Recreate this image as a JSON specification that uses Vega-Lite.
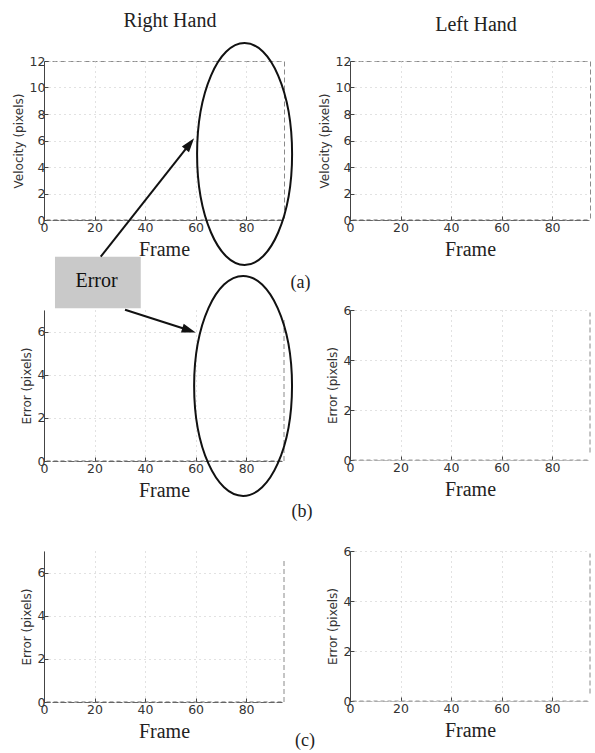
{
  "$schema": "https://vega.github.io/schema/vega-lite/v6.json",
  "background": "white",
  "padding": {"left": 11, "top": 10, "right": 0, "bottom": 0},
  "columns": 2,
  "spacing": {"row": 90, "column": 66},
  "bounds": "flush",
  "datasets": {
    "series": [
      {"panel": "aL", "frame": 1, "value": 0}, {"panel": "aL", "frame": 30, "value": 0}, {"panel": "aL", "frame": 60, "value": 0}, {"panel": "aL", "frame": 95, "value": 0},
      {"panel": "aR", "frame": 1, "value": 0}, {"panel": "aR", "frame": 30, "value": 0}, {"panel": "aR", "frame": 60, "value": 0}, {"panel": "aR", "frame": 95, "value": 0},
      {"panel": "bL", "frame": 1, "value": 0}, {"panel": "bL", "frame": 30, "value": 0}, {"panel": "bL", "frame": 60, "value": 0}, {"panel": "bL", "frame": 95, "value": 0},
      {"panel": "bR", "frame": 1, "value": 0}, {"panel": "bR", "frame": 30, "value": 0}, {"panel": "bR", "frame": 60, "value": 0}, {"panel": "bR", "frame": 95, "value": 0},
      {"panel": "cL", "frame": 1, "value": 0}, {"panel": "cL", "frame": 30, "value": 0}, {"panel": "cL", "frame": 60, "value": 0}, {"panel": "cL", "frame": 95, "value": 0},
      {"panel": "cR", "frame": 1, "value": 0}, {"panel": "cR", "frame": 30, "value": 0}, {"panel": "cR", "frame": 60, "value": 0}, {"panel": "cR", "frame": 95, "value": 0}
    ]
  },
  "config": {
    "view": {"stroke": "#8a8a8a", "strokeDash": [5, 3], "strokeWidth": 1},
    "axis": {
      "labelFont": "DejaVu Sans", "labelFontSize": 12.5, "labelColor": "#333",
      "labelFlush": false, "labelOverlap": false,
      "domainColor": "#444", "tickColor": "#444", "tickSize": -4, "labelPadding": 3,
      "grid": true, "gridColor": "#c4c4c4", "gridDash": [1, 4],
      "titleFontWeight": "normal"
    },
    "axisX": {"titleFont": "Liberation Serif", "titleFontSize": 20, "titleColor": "#222", "titlePadding": 6, "labelPadding": 5, "domainDash": [6, 2], "domainColor": "#666"},
    "axisY": {"titleFont": "DejaVu Sans", "titleFontSize": 12, "titleColor": "#333", "titlePadding": 4},
    "title": {"font": "Liberation Serif", "fontSize": 20, "fontWeight": "normal", "color": "#222", "anchor": "middle"}
  },
  "concat": [
    {
      "width": 240, "height": 159,
      "title": {"text": "Right Hand", "dx": 6, "offset": 8},
      "layer": [
        {
          "data": {"name": "series"}, "transform": [{"filter": "datum.panel === 'aL'"}],
          "mark": {"type": "line", "color": "#666", "strokeWidth": 1, "strokeDash": [4, 3]},
          "encoding": {
            "x": {"field": "frame", "type": "quantitative", "scale": {"domain": [0, 95], "nice": false}, "axis": {"values": [0, 20, 40, 60, 80], "title": "Frame"}},
            "y": {"field": "value", "type": "quantitative", "scale": {"domain": [0, 12], "nice": false}, "axis": {"values": [0, 2, 4, 6, 8, 10, 12], "title": "Velocity (pixels)"}}
          }
        },
        {
          "data": {"values": [{}]},
          "mark": {"type": "rect", "color": "#c0c0c0", "opacity": 0.85},
          "encoding": {
            "x": {"datum": 4.35, "axis": {"values": [0, 20, 40, 60, 80], "title": "Frame"}}, "x2": {"datum": 38.3},
            "y": {"datum": -2.77, "axis": {"values": [0, 2, 4, 6, 8, 10, 12], "title": "Velocity (pixels)"}}, "y2": {"datum": -6.66}
          }
        },
        {
          "data": {"values": [{}]},
          "mark": {"type": "text", "text": "Error", "font": "Liberation Serif", "fontSize": 20, "color": "#111", "align": "center", "baseline": "middle"},
          "encoding": {
            "x": {"datum": 20.8, "axis": {"values": [0, 20, 40, 60, 80], "title": "Frame"}},
            "y": {"datum": -4.6, "axis": {"values": [0, 2, 4, 6, 8, 10, 12], "title": "Velocity (pixels)"}}
          }
        },
        {
          "data": {"values": [{}]},
          "mark": {"type": "point", "shape": "M0,-1A0.428,1,0,1,1,0,1A0.428,1,0,1,1,0,-1Z", "size": 49284, "filled": false, "stroke": "#111", "strokeWidth": 2, "opacity": 1},
          "encoding": {
            "x": {"datum": 79.4, "axis": {"values": [0, 20, 40, 60, 80], "title": "Frame"}},
            "y": {"datum": 4.98, "axis": {"values": [0, 2, 4, 6, 8, 10, 12], "title": "Velocity (pixels)"}}
          }
        },
        {
          "data": {"values": [{}]},
          "mark": {"type": "rule", "color": "#111", "strokeWidth": 2},
          "encoding": {
            "x": {"datum": 22.45, "axis": {"values": [0, 20, 40, 60, 80], "title": "Frame"}}, "x2": {"datum": 57.7},
            "y": {"datum": -2.77, "axis": {"values": [0, 2, 4, 6, 8, 10, 12], "title": "Velocity (pixels)"}}, "y2": {"datum": 5.75}
          }
        },
        {
          "data": {"values": [{}]},
          "mark": {"type": "point", "shape": "M0,-1L0.65,1L-0.65,1Z", "size": 196, "filled": true, "color": "#111", "opacity": 1, "angle": 38.2},
          "encoding": {
            "x": {"datum": 57.7, "axis": {"values": [0, 20, 40, 60, 80], "title": "Frame"}},
            "y": {"datum": 5.75, "axis": {"values": [0, 2, 4, 6, 8, 10, 12], "title": "Velocity (pixels)"}}
          }
        },
        {
          "data": {"values": [{}]},
          "mark": {"type": "text", "text": "(a)", "font": "Liberation Serif", "fontSize": 18, "color": "#222", "align": "center", "baseline": "middle"},
          "encoding": {
            "x": {"datum": 101.5, "axis": {"values": [0, 20, 40, 60, 80], "title": "Frame"}},
            "y": {"datum": -4.75, "axis": {"values": [0, 2, 4, 6, 8, 10, 12], "title": "Velocity (pixels)"}}
          }
        }
      ]
    },
    {
      "width": 240, "height": 159,
      "title": {"text": "Left Hand", "dx": 6, "offset": 20},
      "data": {"name": "series"}, "transform": [{"filter": "datum.panel === 'aR'"}],
      "mark": {"type": "line", "color": "#666", "strokeWidth": 1, "strokeDash": [4, 3]},
      "encoding": {
        "x": {"field": "frame", "type": "quantitative", "scale": {"domain": [0, 95], "nice": false}, "axis": {"values": [0, 20, 40, 60, 80], "title": "Frame"}},
        "y": {"field": "value", "type": "quantitative", "scale": {"domain": [0, 12], "nice": false}, "axis": {"values": [0, 2, 4, 6, 8, 10, 12], "title": "Velocity (pixels)"}}
      }
    },
    {
      "width": 240, "height": 151,
      "view": {"stroke": null},
      "layer": [
        {
          "data": {"name": "series"}, "transform": [{"filter": "datum.panel === 'bL'"}],
          "mark": {"type": "line", "color": "#666", "strokeWidth": 1, "strokeDash": [4, 3]},
          "encoding": {
            "x": {"field": "frame", "type": "quantitative", "scale": {"domain": [0, 95], "nice": false}, "axis": {"values": [0, 20, 40, 60, 80], "title": "Frame"}},
            "y": {"field": "value", "type": "quantitative", "scale": {"domain": [0, 7], "nice": false}, "axis": {"values": [0, 2, 4, 6], "title": "Error (pixels)"}}
          }
        },
        {
          "data": {"values": [{}]},
          "mark": {"type": "rule", "color": "#8a8a8a", "strokeWidth": 1, "strokeDash": [5, 3]},
          "encoding": {
            "x": {"datum": 95, "axis": {"values": [0, 20, 40, 60, 80], "title": "Frame"}},
            "y": {"datum": 0, "axis": {"values": [0, 2, 4, 6], "title": "Error (pixels)"}}, "y2": {"datum": 6.6}
          }
        },
        {
          "data": {"values": [{}]},
          "mark": {"type": "point", "shape": "M0,-1A0.445,1,0,1,1,0,1A0.445,1,0,1,1,0,-1Z", "size": 48400, "filled": false, "stroke": "#111", "strokeWidth": 2, "opacity": 1},
          "encoding": {
            "x": {"datum": 78.8, "axis": {"values": [0, 20, 40, 60, 80], "title": "Frame"}},
            "y": {"datum": 3.48, "axis": {"values": [0, 2, 4, 6], "title": "Error (pixels)"}}
          }
        },
        {
          "data": {"values": [{}]},
          "mark": {"type": "rule", "color": "#111", "strokeWidth": 2},
          "encoding": {
            "x": {"datum": 32.07, "axis": {"values": [0, 20, 40, 60, 80], "title": "Frame"}}, "x2": {"datum": 57.4},
            "y": {"datum": 7.01, "axis": {"values": [0, 2, 4, 6], "title": "Error (pixels)"}}, "y2": {"datum": 6.06}
          }
        },
        {
          "data": {"values": [{}]},
          "mark": {"type": "point", "shape": "M0,-1L0.65,1L-0.65,1Z", "size": 196, "filled": true, "color": "#111", "opacity": 1, "angle": 107.7},
          "encoding": {
            "x": {"datum": 57.4, "axis": {"values": [0, 20, 40, 60, 80], "title": "Frame"}},
            "y": {"datum": 6.06, "axis": {"values": [0, 2, 4, 6], "title": "Error (pixels)"}}
          }
        },
        {
          "data": {"values": [{}]},
          "mark": {"type": "text", "text": "(b)", "font": "Liberation Serif", "fontSize": 18, "color": "#222", "align": "center", "baseline": "middle"},
          "encoding": {
            "x": {"datum": 102.1, "axis": {"values": [0, 20, 40, 60, 80], "title": "Frame"}},
            "y": {"datum": -2.36, "axis": {"values": [0, 2, 4, 6], "title": "Error (pixels)"}}
          }
        }
      ]
    },
    {
      "width": 240, "height": 150,
      "view": {"stroke": null},
      "layer": [
        {
          "data": {"name": "series"}, "transform": [{"filter": "datum.panel === 'bR'"}],
          "mark": {"type": "line", "color": "#999", "strokeWidth": 1, "strokeDash": [4, 3]},
          "encoding": {
            "x": {"field": "frame", "type": "quantitative", "scale": {"domain": [0, 95], "nice": false}, "axis": {"values": [0, 20, 40, 60, 80], "title": "Frame", "domainColor": "#bbb"}},
            "y": {"field": "value", "type": "quantitative", "scale": {"domain": [0, 6], "nice": false}, "axis": {"values": [0, 2, 4, 6], "title": "Error (pixels)"}}
          }
        },
        {
          "data": {"values": [{}]},
          "mark": {"type": "rule", "color": "#8a8a8a", "strokeWidth": 1, "strokeDash": [5, 3]},
          "encoding": {
            "x": {"datum": 95, "axis": {"values": [0, 20, 40, 60, 80], "title": "Frame", "domainColor": "#bbb"}},
            "y": {"datum": 0.3, "axis": {"values": [0, 2, 4, 6], "title": "Error (pixels)"}}, "y2": {"datum": 5.9}
          }
        }
      ]
    },
    {
      "width": 240, "height": 151,
      "view": {"stroke": null},
      "layer": [
        {
          "data": {"name": "series"}, "transform": [{"filter": "datum.panel === 'cL'"}],
          "mark": {"type": "line", "color": "#666", "strokeWidth": 1, "strokeDash": [4, 3]},
          "encoding": {
            "x": {"field": "frame", "type": "quantitative", "scale": {"domain": [0, 95], "nice": false}, "axis": {"values": [0, 20, 40, 60, 80], "title": "Frame"}},
            "y": {"field": "value", "type": "quantitative", "scale": {"domain": [0, 7], "nice": false}, "axis": {"values": [0, 2, 4, 6], "title": "Error (pixels)"}}
          }
        },
        {
          "data": {"values": [{}]},
          "mark": {"type": "rule", "color": "#8a8a8a", "strokeWidth": 1, "strokeDash": [5, 3]},
          "encoding": {
            "x": {"datum": 95, "axis": {"values": [0, 20, 40, 60, 80], "title": "Frame"}},
            "y": {"datum": 0, "axis": {"values": [0, 2, 4, 6], "title": "Error (pixels)"}}, "y2": {"datum": 6.6}
          }
        },
        {
          "data": {"values": [{}]},
          "mark": {"type": "text", "text": "(c)", "font": "Liberation Serif", "fontSize": 18, "color": "#222", "align": "center", "baseline": "middle"},
          "encoding": {
            "x": {"datum": 103.3, "axis": {"values": [0, 20, 40, 60, 80], "title": "Frame"}},
            "y": {"datum": -1.81, "axis": {"values": [0, 2, 4, 6], "title": "Error (pixels)"}}
          }
        }
      ]
    },
    {
      "width": 240, "height": 150,
      "view": {"stroke": null},
      "layer": [
        {
          "data": {"name": "series"}, "transform": [{"filter": "datum.panel === 'cR'"}],
          "mark": {"type": "line", "color": "#999", "strokeWidth": 1, "strokeDash": [4, 3]},
          "encoding": {
            "x": {"field": "frame", "type": "quantitative", "scale": {"domain": [0, 95], "nice": false}, "axis": {"values": [0, 20, 40, 60, 80], "title": "Frame", "domainColor": "#bbb"}},
            "y": {"field": "value", "type": "quantitative", "scale": {"domain": [0, 6], "nice": false}, "axis": {"values": [0, 2, 4, 6], "title": "Error (pixels)"}}
          }
        },
        {
          "data": {"values": [{}]},
          "mark": {"type": "rule", "color": "#8a8a8a", "strokeWidth": 1, "strokeDash": [5, 3]},
          "encoding": {
            "x": {"datum": 95, "axis": {"values": [0, 20, 40, 60, 80], "title": "Frame", "domainColor": "#bbb"}},
            "y": {"datum": 0.3, "axis": {"values": [0, 2, 4, 6], "title": "Error (pixels)"}}, "y2": {"datum": 5.9}
          }
        }
      ]
    }
  ]
}
